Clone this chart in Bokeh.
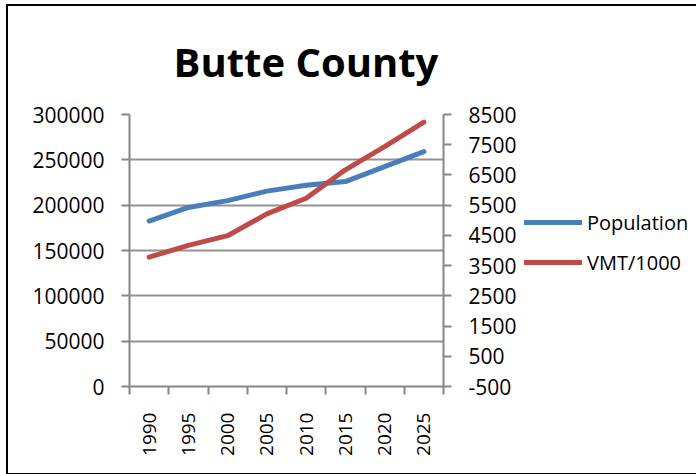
from bokeh.plotting import figure
from bokeh.layouts import row
from bokeh.models import (Range1d, LinearAxis, FixedTicker, NumeralTickFormatter,
                          Legend, LegendItem, Title)
from bokeh.embed import file_html
from bokeh.resources import INLINE
import math

# ---- data ----
years = [1990, 1995, 2000, 2005, 2010, 2015, 2020, 2025]
population = [182500, 197500, 205000, 215500, 222000, 226000, 242500, 259000]
vmt_per_1000 = [3780, 4170, 4490, 5210, 5730, 6670, 7440, 8250]
left_ticks = [0, 50000, 100000, 150000, 200000, 250000, 300000]
right_ticks = [-500, 500, 1500, 2500, 3500, 4500, 5500, 6500, 7500, 8500]
title_text = "Butte County"
series_names = ["Population", "VMT/1000"]

BLUE = "#4A7EBB"
RED = "#BE4B48"
GRAY = "#868686"
FONT = "Open Sans"

p = figure(frame_width=314, frame_height=272, output_backend="svg", toolbar_location=None,
           x_range=Range1d(1987.5, 2027.5), y_range=Range1d(0, 300000),
           min_border_left=121, min_border_right=76, min_border_top=107,
           min_border_bottom=87, x_axis_location=None, y_axis_location=None)
p.outline_line_color = None
p.background_fill_color = "white"
p.border_fill_color = "white"
p.extra_y_ranges = {"vmt": Range1d(-500, 8500)}

# axes
half = (years[1] - years[0]) / 2
xaxis = LinearAxis(ticker=FixedTicker(ticks=years,
                                      minor_ticks=[y - half for y in years] + [years[-1] + half]))
xaxis.major_label_orientation = math.pi / 2
xaxis.major_tick_line_color = None
xaxis.major_tick_out = 0
xaxis.major_tick_in = 0
xaxis.minor_tick_out = 8
xaxis.minor_tick_in = 0
xaxis.minor_tick_line_color = GRAY
xaxis.minor_tick_line_width = 2
xaxis.major_label_standoff = 18
xaxis.major_label_text_font_size = "19px"
p.add_layout(xaxis, "below")

yaxis = LinearAxis(ticker=FixedTicker(ticks=left_ticks),
                   formatter=NumeralTickFormatter(format="0"))
yaxis.major_tick_out = 8
yaxis.major_tick_in = 0
yaxis.minor_tick_line_color = None
yaxis.major_label_standoff = 17
yaxis.major_label_text_font_size = "21px"
p.add_layout(yaxis, "left")

raxis = LinearAxis(y_range_name="vmt", ticker=FixedTicker(ticks=right_ticks),
                   formatter=NumeralTickFormatter(format="0"))
raxis.major_tick_out = 8
raxis.major_tick_in = 0
raxis.minor_tick_line_color = None
raxis.major_label_standoff = 17
raxis.major_label_text_font_size = "21px"
p.add_layout(raxis, "right")

for ax in (xaxis, yaxis, raxis):
    ax.axis_line_color = GRAY
    ax.axis_line_width = 2
    ax.major_tick_line_width = 2
    if ax is not xaxis:
        ax.major_tick_line_color = GRAY
    ax.major_label_text_font = FONT
    ax.major_label_text_color = "black"

p.xgrid.visible = False
p.ygrid.ticker = FixedTicker(ticks=left_ticks)
p.ygrid.grid_line_color = GRAY
p.ygrid.grid_line_width = 2
p.ygrid.grid_line_alpha = 0.9

p.line(years, population, line_color=BLUE, line_width=5,
       line_cap="round", line_join="round")
p.line(years, vmt_per_1000, line_color=RED, line_width=5,
       line_cap="round", line_join="round", y_range_name="vmt")

p.add_layout(Title(text=title_text, align="left", offset=44, standoff=51,
                   text_font=FONT, text_font_style="bold",
                   text_font_size="40px", text_color="black"), "above")

# legend panel (separate canvas to the right of the chart); its series
# lines lie outside this panel's view, only their legend keys are seen
pl = figure(width=177, height=466, output_backend="svg", toolbar_location=None,
            x_range=Range1d(0, 1), y_range=Range1d(0, 1),
            min_border=0, x_axis_location=None, y_axis_location=None)
pl.outline_line_color = None
pl.grid.visible = False
pl.background_fill_color = "white"
pl.border_fill_color = "white"
k1 = pl.line(years, population, line_color=BLUE, line_width=5, line_cap="round")
k2 = pl.line(years, vmt_per_1000, line_color=RED, line_width=5, line_cap="round")
legend = Legend(items=[LegendItem(label=series_names[0], renderers=[k1]),
                       LegendItem(label=series_names[1], renderers=[k2])],
                location=(5, 107), glyph_width=58, glyph_height=32, label_height=32,
                label_standoff=5, spacing=8, padding=0, margin=0,
                border_line_color=None, background_fill_alpha=0,
                label_text_font=FONT, label_text_font_size="20px",
                label_text_color="black")
pl.add_layout(legend, "center")

layout = row(p, pl)
layout.styles = {"margin-left": "8px", "margin-top": "6px",
                 "outline": "2px solid black"}

open("out.html", "w").write(file_html(layout, INLINE))
